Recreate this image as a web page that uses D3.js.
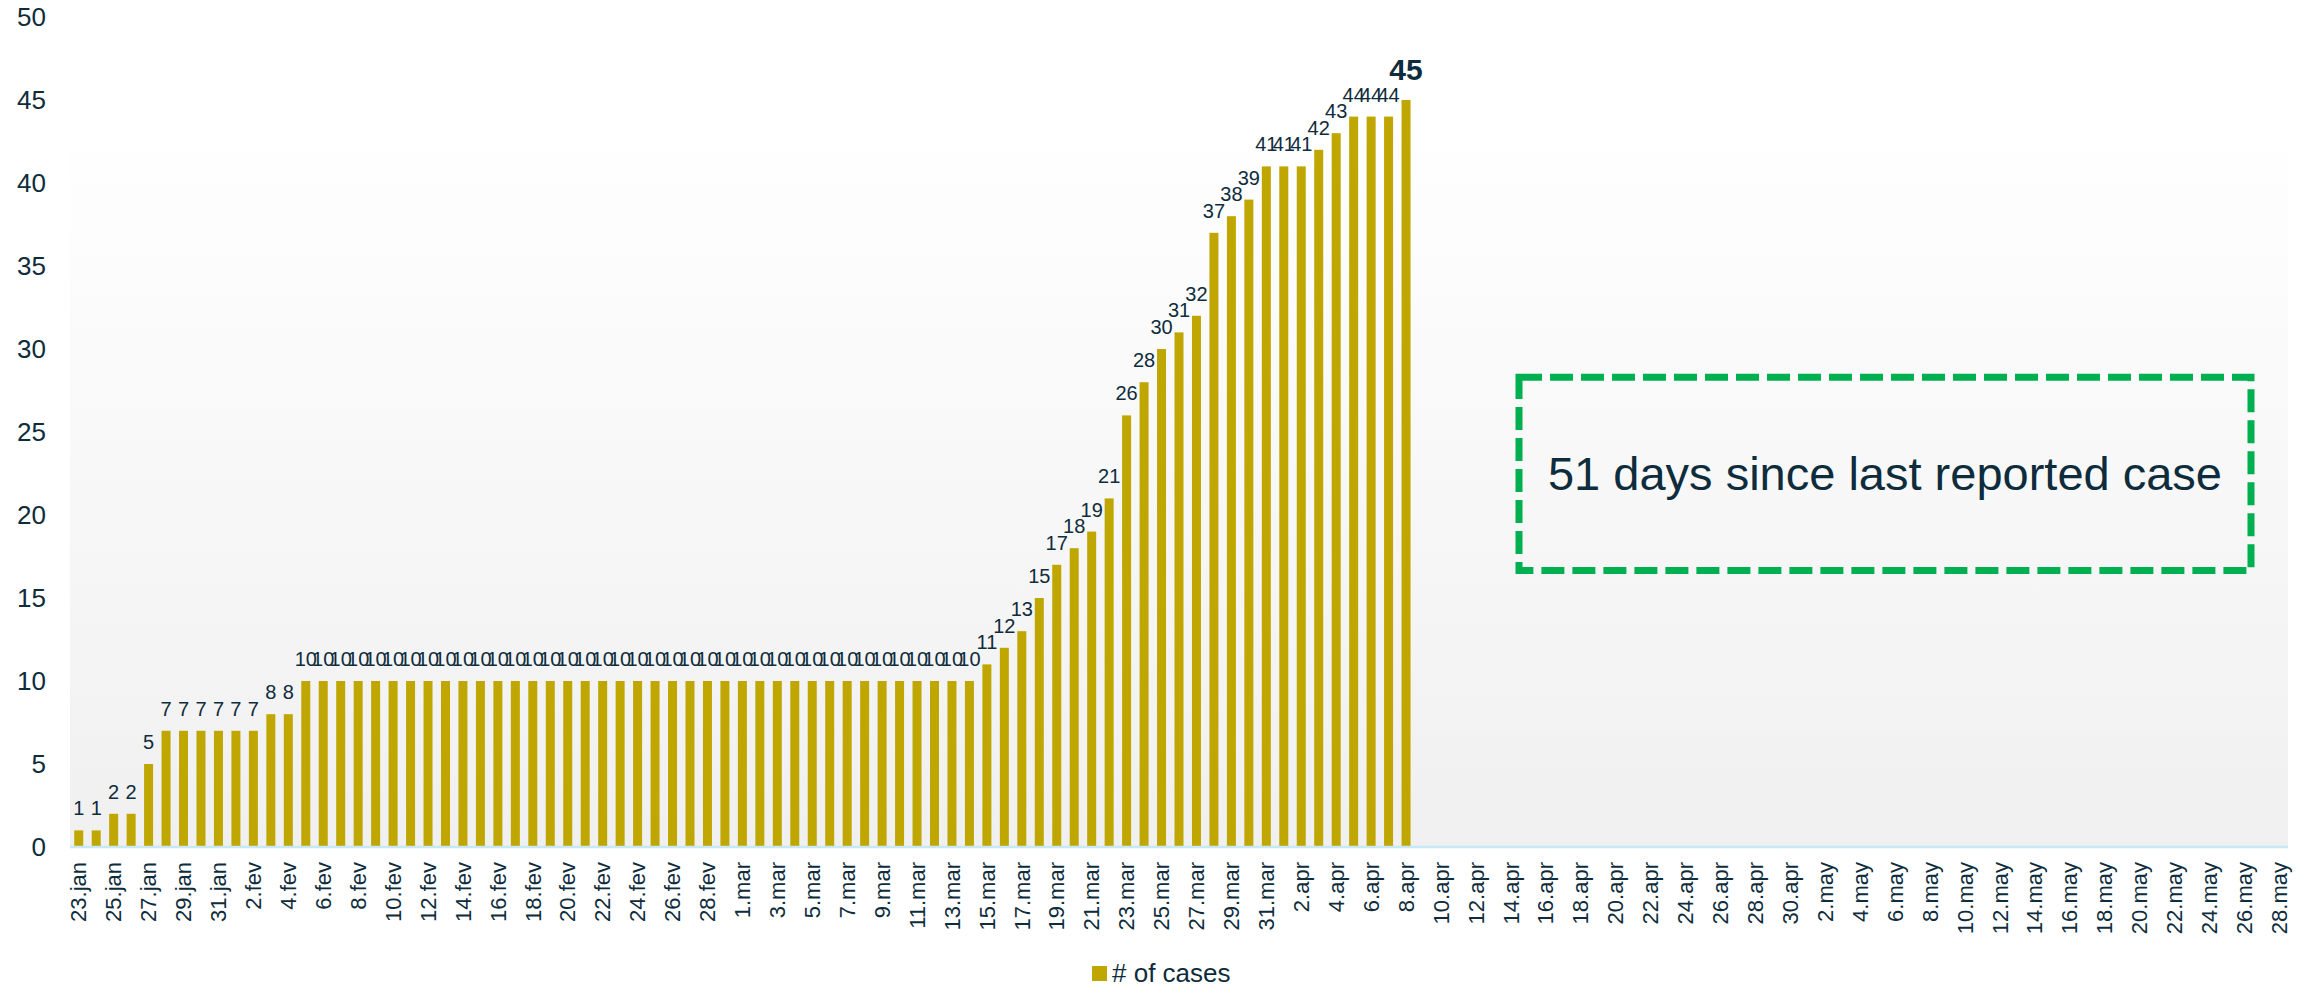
<!DOCTYPE html>
<html>
<head>
<meta charset="utf-8">
<script src="https://cdn.jsdelivr.net/npm/d3@7"></script>
<style>
  html, body { margin: 0; padding: 0; background: #fff; }
  svg { display: block; font-family: "Liberation Sans", Arial, sans-serif; }
</style>
</head>
<body>
<svg class="chart"></svg>
<script>
// data
var startDay = new Date(2020, 0, 23);
var endDay = new Date(2020, 4, 29);      // exclusive, last category is 28.may
var monthNames = ["jan", "fev", "mar", "apr", "may"];
var cases = [1, 1, 2, 2, 5, 7, 7, 7, 7, 7, 7, 8, 8,
  10, 10, 10, 10, 10, 10, 10, 10, 10, 10, 10, 10, 10, 10, 10, 10, 10, 10, 10, 10,
  10, 10, 10, 10, 10, 10, 10, 10, 10, 10, 10, 10, 10, 10, 10, 10, 10, 10, 10,
  11, 12, 13, 15, 17, 18, 19, 21, 26, 28, 30, 31, 32, 37, 38, 39, 41, 41, 41,
  42, 43, 44, 44, 44, 45];
var yTicks = [0, 5, 10, 15, 20, 25, 30, 35, 40, 45, 50];
var seriesName = "# of cases";
var note = "51 days since last reported case";

var days = d3.timeDay.range(startDay, endDay);
var categories = days.map(function(d) { return d.getDate() + "." + monthNames[d.getMonth()]; });

var width = 2318, height = 987;
var plot = {left: 70, right: 2288, top: 17, bottom: 847};
var textColor = "#0e2c3c";

var svg = d3.select(".chart")
    .attr("width", width)
    .attr("height", height);

var defs = svg.append("defs");
var grad = defs.append("linearGradient")
    .attr("id", "bg").attr("x1", 0).attr("y1", 0).attr("x2", 0).attr("y2", 1);
grad.append("stop").attr("offset", "0%").attr("stop-color", "#ffffff");
grad.append("stop").attr("offset", "12%").attr("stop-color", "#ffffff");
grad.append("stop").attr("offset", "100%").attr("stop-color", "#f0f0f0");

var x = d3.scaleBand()
    .domain(categories)
    .range([plot.left, plot.right])
    .paddingInner(0.485)
    .paddingOuter(0.2425);

var y = d3.scaleLinear()
    .domain([0, 50])
    .range([plot.bottom, plot.top]);

// plot background
svg.append("rect")
    .attr("x", plot.left).attr("y", plot.top)
    .attr("width", plot.right - plot.left)
    .attr("height", plot.bottom - plot.top)
    .attr("fill", "url(#bg)");

// y axis labels
var yAxis = svg.append("g")
    .attr("transform", "translate(" + (plot.left - 24) + ",0)")
    .call(d3.axisLeft(y).tickValues(yTicks).tickSize(0).tickPadding(0));
yAxis.select(".domain").remove();
yAxis.selectAll("text")
    .attr("fill", textColor)
    .style("font-size", "26px")
    .style("font-family", "'Liberation Sans', Arial, sans-serif");

// bars
var bars = cases.map(function(v, i) { return {cat: categories[i], value: v, last: i === cases.length - 1}; });

svg.append("g").selectAll("rect")
    .data(bars)
    .enter().append("rect")
    .attr("x", function(d) { return x(d.cat); })
    .attr("y", function(d) { return y(d.value); })
    .attr("width", x.bandwidth())
    .attr("height", function(d) { return y(0) - y(d.value); })
    .attr("fill", "#bfa600");

// zero line
svg.append("line")
    .attr("x1", plot.left).attr("x2", plot.right)
    .attr("y1", y(0)).attr("y2", y(0))
    .attr("stroke", "#c6e8f7").attr("stroke-width", 2.5);

// value labels
svg.append("g").selectAll("text")
    .data(bars)
    .enter().append("text")
    .attr("x", function(d) { return x(d.cat) + x.bandwidth() / 2; })
    .attr("y", function(d) { return y(d.value) - (d.last ? 20 : 15); })
    .attr("text-anchor", "middle")
    .attr("fill", textColor)
    .style("font-size", function(d) { return d.last ? "30px" : "20px"; })
    .style("font-weight", function(d) { return d.last ? "bold" : "normal"; })
    .text(function(d) { return d.value; });

// x axis labels, every second day
var xAxis = svg.append("g")
    .attr("transform", "translate(0," + y(0) + ")")
    .call(d3.axisBottom(x)
        .tickValues(categories.filter(function(d, i) { return i % 2 === 0; }))
        .tickSize(0));
xAxis.select(".domain").remove();
xAxis.selectAll("text")
    .attr("fill", textColor)
    .style("font-size", "22px")
    .style("font-family", "'Liberation Sans', Arial, sans-serif")
    .attr("text-anchor", "end")
    .attr("transform", "rotate(-90)")
    .attr("x", -15)
    .attr("y", 0)
    .attr("dy", "0.35em");

// annotation box
svg.append("rect")
    .attr("x", 1519).attr("y", y(28.3))
    .attr("width", 2251 - 1519)
    .attr("height", y(16.65) - y(28.3))
    .attr("fill", "none")
    .attr("stroke", "#00b050")
    .attr("stroke-width", 7)
    .attr("stroke-dasharray", "23 8");

svg.append("text")
    .attr("x", (1519 + 2251) / 2)
    .attr("y", 490)
    .attr("text-anchor", "middle")
    .attr("fill", textColor)
    .style("font-size", "47px")
    .text(note);

// legend
var legend = svg.append("g").attr("transform", "translate(1092,966)");
legend.append("rect")
    .attr("width", 15).attr("height", 15)
    .attr("fill", "#bfa600");
legend.append("text")
    .attr("x", 20).attr("y", 16)
    .attr("fill", textColor)
    .style("font-size", "26px")
    .text(seriesName);
</script>
</body>
</html>
